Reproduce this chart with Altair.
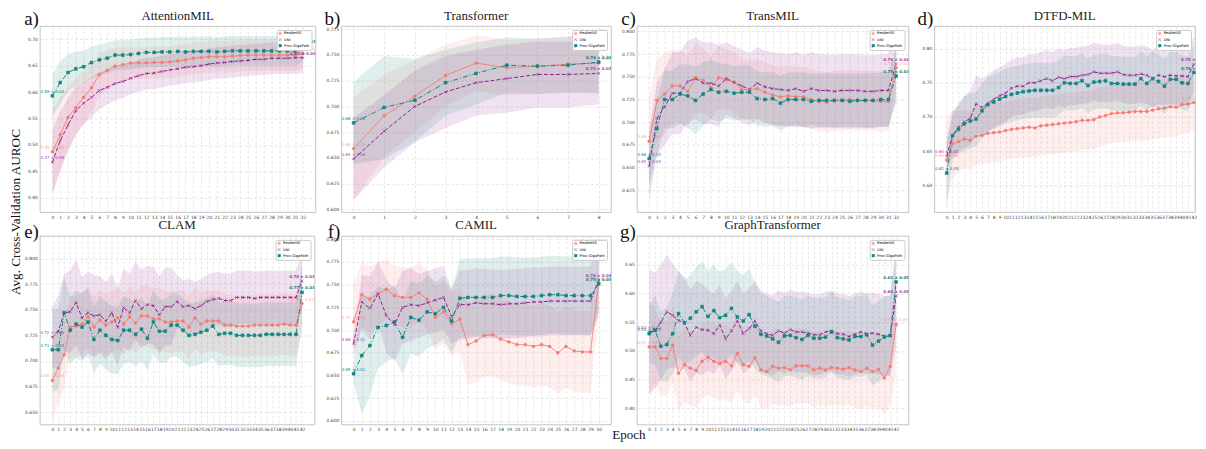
import altair as alt
import pandas as pd

MODELS = ["ResNet50", "UNI", "Prov-GigaPath"]
COLORS = ["#F47C72", "#8E1E8E", "#11857F"]
SHAPES = ["circle", "M-1,-1L1,1M-1,1L1,-1", "square"]
DASHES = [[1, 0], [4, 2], [5, 2, 1, 2]]

# ---------------- a) AttentionMIL ----------------
a_resnet = [0.487, 0.519, 0.552, 0.571, 0.590, 0.608, 0.633, 0.641, 0.649, 0.652, 0.655, 0.655, 0.655, 0.656, 0.656, 0.657, 0.659,
            0.661, 0.664, 0.665, 0.667, 0.667, 0.667, 0.668, 0.669, 0.670, 0.670, 0.670, 0.670, 0.670, 0.670, 0.670, 0.673]
a_resnet_sd = [0.08, 0.07, 0.06, 0.055, 0.05, 0.045, 0.04, 0.037, 0.035, 0.033, 0.03, 0.03, 0.03, 0.03, 0.03, 0.03, 0.03,
               0.03, 0.03, 0.03, 0.03, 0.03, 0.03, 0.03, 0.03, 0.03, 0.03, 0.03, 0.03, 0.03, 0.03, 0.03, 0.03]
a_uni = [0.467, 0.508, 0.538, 0.565, 0.579, 0.590, 0.603, 0.609, 0.616, 0.620, 0.626, 0.631, 0.635, 0.636, 0.639, 0.642, 0.644,
         0.647, 0.648, 0.650, 0.653, 0.655, 0.656, 0.658, 0.659, 0.660, 0.662, 0.662, 0.664, 0.664, 0.664, 0.665, 0.665]
a_uni_sd = [0.06, 0.055, 0.05, 0.045, 0.04, 0.038, 0.035, 0.033, 0.032, 0.031, 0.03, 0.03, 0.03, 0.03, 0.03, 0.03, 0.03,
            0.03, 0.03, 0.03, 0.03, 0.03, 0.03, 0.03, 0.03, 0.03, 0.03, 0.03, 0.03, 0.03, 0.03, 0.03, 0.03]
a_gp = [0.593, 0.618, 0.637, 0.644, 0.648, 0.656, 0.661, 0.664, 0.670, 0.670, 0.671, 0.673, 0.675, 0.675, 0.676, 0.676, 0.677,
        0.676, 0.677, 0.677, 0.677, 0.676, 0.677, 0.678, 0.678, 0.678, 0.678, 0.678, 0.678, 0.678, 0.678, 0.678, 0.687]
a_gp_sd = [0.04, 0.04, 0.035, 0.033, 0.03, 0.03, 0.029, 0.029, 0.028, 0.028, 0.028, 0.028, 0.028, 0.028, 0.028, 0.028, 0.028,
           0.028, 0.028, 0.028, 0.028, 0.028, 0.028, 0.028, 0.028, 0.028, 0.028, 0.028, 0.028, 0.028, 0.028, 0.028, 0.03]
a_first = ["0.49 ± 0.08", "0.47 ± 0.06", "0.59 ± 0.04"]
a_last = ["0.67 ± 0.03", "0.67 ± 0.03", "0.69 ± 0.03"]

# ---------------- b) Transformer ----------------
b_resnet = [0.659, 0.691, 0.710, 0.730, 0.742, 0.7375, 0.739, 0.741, 0.742]
b_resnet_sd = [0.05, 0.04, 0.035, 0.03, 0.027, 0.027, 0.027, 0.027, 0.03]
b_uni = [0.649, 0.676, 0.700, 0.714, 0.723, 0.727, 0.731, 0.731, 0.732]
b_uni_sd = [0.04, 0.035, 0.035, 0.035, 0.032, 0.033, 0.032, 0.032, 0.03]
b_gp = [0.684, 0.699, 0.706, 0.723, 0.732, 0.740, 0.739, 0.740, 0.743]
b_gp_sd = [0.04, 0.05, 0.04, 0.032, 0.03, 0.027, 0.027, 0.027, 0.03]
b_first = ["0.66 ± 0.05", "0.65 ± 0.04", "0.68 ± 0.04"]
b_last = ["0.74 ± 0.03", "0.73 ± 0.03", "0.74 ± 0.03"]

# ---------------- c) TransMIL ----------------
c_resnet = [0.679, 0.724, 0.731, 0.740, 0.740, 0.734, 0.749, 0.746, 0.738, 0.749, 0.747, 0.744, 0.736, 0.736, 0.737, 0.733, 0.730,
            0.728, 0.729, 0.728, 0.728, 0.725, 0.723, 0.722, 0.724, 0.724, 0.725, 0.724, 0.724, 0.724, 0.723, 0.723, 0.760]
c_resnet_sd = [0.05, 0.045, 0.045, 0.04, 0.04, 0.04, 0.038, 0.036, 0.035, 0.035, 0.033, 0.033, 0.033, 0.033, 0.033, 0.033, 0.033,
               0.033, 0.033, 0.033, 0.033, 0.033, 0.033, 0.033, 0.033, 0.033, 0.033, 0.033, 0.033, 0.033, 0.033, 0.033, 0.02]
c_uni = [0.652, 0.704, 0.717, 0.732, 0.732, 0.745, 0.748, 0.743, 0.743, 0.740, 0.748, 0.744, 0.740, 0.736, 0.743, 0.739, 0.737,
         0.736, 0.735, 0.737, 0.734, 0.737, 0.735, 0.735, 0.734, 0.735, 0.735, 0.735, 0.734, 0.734, 0.735, 0.735, 0.764]
c_uni_sd = [0.04, 0.04, 0.042, 0.045, 0.045, 0.045, 0.045, 0.045, 0.045, 0.045, 0.04, 0.04, 0.04, 0.04, 0.04, 0.04, 0.04,
            0.04, 0.04, 0.04, 0.04, 0.04, 0.04, 0.04, 0.04, 0.04, 0.04, 0.04, 0.04, 0.04, 0.04, 0.04, 0.04]
c_gp = [0.660, 0.693, 0.725, 0.725, 0.731, 0.729, 0.724, 0.731, 0.736, 0.733, 0.734, 0.732, 0.733, 0.733, 0.726, 0.725, 0.726,
        0.721, 0.725, 0.725, 0.725, 0.723, 0.724, 0.724, 0.724, 0.724, 0.723, 0.724, 0.724, 0.724, 0.725, 0.725, 0.751]
c_gp_sd = [0.03, 0.03, 0.032, 0.032, 0.033, 0.035, 0.037, 0.035, 0.033, 0.032, 0.03, 0.03, 0.03, 0.03, 0.03, 0.03, 0.03,
           0.03, 0.03, 0.03, 0.03, 0.03, 0.03, 0.03, 0.03, 0.03, 0.03, 0.03, 0.03, 0.03, 0.03, 0.03, 0.03]
c_first = ["0.68 ± 0.05", "0.65 ± 0.04", "0.66 ± 0.03"]
c_last = ["0.76 ± 0.02", "0.76 ± 0.04", "0.75 ± 0.03"]

# ---------------- d) DTFD-MIL ----------------
d_resnet = [0.637, 0.661, 0.664, 0.668, 0.666, 0.672, 0.673, 0.676, 0.677, 0.678, 0.680, 0.682, 0.683, 0.684, 0.685, 0.684, 0.687,
            0.688, 0.689, 0.690, 0.691, 0.692, 0.693, 0.695, 0.695, 0.696, 0.700, 0.702, 0.705, 0.706, 0.706, 0.707, 0.708, 0.708,
            0.708, 0.710, 0.712, 0.713, 0.715, 0.714, 0.718, 0.719, 0.721]
d_resnet_sd = [0.06, 0.05, 0.045, 0.043, 0.043, 0.043, 0.043, 0.043, 0.043, 0.043, 0.043, 0.043, 0.043, 0.043, 0.043, 0.043, 0.043,
               0.043, 0.043, 0.043, 0.043, 0.043, 0.043, 0.043, 0.043, 0.043, 0.043, 0.043, 0.043, 0.043, 0.043, 0.043, 0.043, 0.043,
               0.043, 0.043, 0.043, 0.043, 0.043, 0.043, 0.043, 0.043, 0.04]
d_uni = [0.643, 0.673, 0.685, 0.693, 0.698, 0.719, 0.714, 0.720, 0.726, 0.731, 0.735, 0.742, 0.745, 0.745, 0.750, 0.750, 0.753,
         0.756, 0.753, 0.758, 0.756, 0.759, 0.759, 0.761, 0.762, 0.766, 0.764, 0.764, 0.764, 0.766, 0.762, 0.761, 0.761, 0.763,
         0.761, 0.756, 0.761, 0.759, 0.761, 0.760, 0.760, 0.759, 0.777]
d_uni_sd = [0.02, 0.03, 0.035, 0.038, 0.04, 0.042, 0.042, 0.042, 0.042, 0.042, 0.042, 0.042, 0.042, 0.042, 0.042, 0.042, 0.042,
            0.042, 0.042, 0.042, 0.042, 0.042, 0.042, 0.042, 0.042, 0.042, 0.042, 0.042, 0.042, 0.042, 0.042, 0.042, 0.042, 0.042,
            0.042, 0.042, 0.042, 0.042, 0.042, 0.042, 0.042, 0.042, 0.04]
d_gp = [0.618, 0.673, 0.682, 0.690, 0.694, 0.697, 0.709, 0.718, 0.722, 0.726, 0.730, 0.733, 0.735, 0.737, 0.738, 0.739, 0.739,
        0.739, 0.739, 0.743, 0.750, 0.749, 0.749, 0.753, 0.746, 0.751, 0.752, 0.753, 0.749, 0.749, 0.748, 0.748, 0.748, 0.756,
        0.749, 0.756, 0.752, 0.745, 0.755, 0.755, 0.750, 0.749, 0.765]
d_gp_sd = [0.05, 0.035, 0.035, 0.04, 0.04, 0.04, 0.04, 0.04, 0.04, 0.04, 0.04, 0.04, 0.04, 0.04, 0.04, 0.04, 0.04,
           0.04, 0.04, 0.04, 0.04, 0.04, 0.04, 0.04, 0.04, 0.04, 0.04, 0.04, 0.04, 0.04, 0.04, 0.04, 0.04, 0.04,
           0.04, 0.04, 0.04, 0.04, 0.04, 0.04, 0.04, 0.04, 0.04]
d_first = ["0.64 ± 0.06", "0.64 ± 0.02", "0.62 ± 0.05"]
d_last = ["0.72 ± 0.04", "0.78 ± 0.04", "0.76 ± 0.04"]

# ---------------- e) CLAM ----------------
e_resnet = [0.681, 0.693, 0.706, 0.733, 0.734, 0.736, 0.743, 0.733, 0.740, 0.735, 0.738, 0.742, 0.736, 0.743, 0.737, 0.744, 0.744,
            0.741, 0.741, 0.738, 0.738, 0.739, 0.739, 0.733, 0.742, 0.736, 0.739, 0.739, 0.739, 0.735, 0.735, 0.734, 0.734, 0.734,
            0.735, 0.735, 0.735, 0.735, 0.735, 0.736, 0.735, 0.735, 0.756]
e_resnet_sd = [0.04, 0.035, 0.032, 0.03, 0.03, 0.03, 0.03, 0.03, 0.03, 0.03, 0.03, 0.03, 0.03, 0.03, 0.03, 0.03, 0.03,
               0.03, 0.03, 0.03, 0.03, 0.03, 0.03, 0.03, 0.03, 0.03, 0.03, 0.03, 0.03, 0.03, 0.03, 0.03, 0.03, 0.03,
               0.03, 0.03, 0.03, 0.03, 0.03, 0.03, 0.03, 0.03, 0.03]
e_uni = [0.723, 0.729, 0.747, 0.748, 0.757, 0.742, 0.747, 0.744, 0.745, 0.739, 0.747, 0.733, 0.752, 0.747, 0.759, 0.751, 0.755,
         0.754, 0.745, 0.753, 0.753, 0.758, 0.753, 0.754, 0.751, 0.754, 0.758, 0.760, 0.761, 0.759, 0.759, 0.762, 0.762, 0.762,
         0.761, 0.762, 0.762, 0.762, 0.762, 0.762, 0.762, 0.762, 0.778]
e_uni_sd = [0.03, 0.035, 0.038, 0.04, 0.042, 0.04, 0.04, 0.04, 0.038, 0.038, 0.038, 0.038, 0.038, 0.038, 0.038, 0.038, 0.038,
            0.038, 0.038, 0.038, 0.038, 0.026, 0.026, 0.026, 0.026, 0.026, 0.026, 0.026, 0.026, 0.026, 0.026, 0.026, 0.026, 0.026,
            0.026, 0.026, 0.026, 0.026, 0.026, 0.026, 0.026, 0.026, 0.03]
e_gp = [0.711, 0.711, 0.747, 0.730, 0.736, 0.733, 0.738, 0.721, 0.730, 0.725, 0.721, 0.720, 0.730, 0.730, 0.726, 0.731, 0.722,
        0.738, 0.729, 0.729, 0.735, 0.735, 0.730, 0.725, 0.726, 0.728, 0.730, 0.734, 0.726, 0.727, 0.727, 0.725, 0.725, 0.725,
        0.725, 0.725, 0.726, 0.726, 0.726, 0.726, 0.726, 0.726, 0.767]
e_gp_sd = [0.04, 0.04, 0.035, 0.033, 0.033, 0.033, 0.033, 0.033, 0.033, 0.033, 0.033, 0.033, 0.033, 0.031, 0.031, 0.031, 0.031,
           0.031, 0.031, 0.031, 0.031, 0.031, 0.031, 0.031, 0.031, 0.031, 0.031, 0.031, 0.031, 0.031, 0.031, 0.031, 0.031, 0.031,
           0.031, 0.031, 0.031, 0.031, 0.031, 0.031, 0.031, 0.031, 0.03]
e_first = ["0.68 ± 0.04", "0.72 ± 0.03", "0.71 ± 0.04"]
e_last = ["0.76 ± 0.03", "0.78 ± 0.03", "0.77 ± 0.03"]

# ---------------- f) CAMIL ----------------
f_resnet = [0.709, 0.739, 0.734, 0.740, 0.745, 0.738, 0.736, 0.736, 0.741, 0.734, 0.714, 0.720, 0.707, 0.712, 0.684, 0.688, 0.694,
            0.695, 0.690, 0.687, 0.684, 0.684, 0.682, 0.684, 0.682, 0.675, 0.682, 0.677, 0.676, 0.676, 0.752]
f_resnet_sd = [0.04, 0.036, 0.036, 0.035, 0.033, 0.033, 0.033, 0.033, 0.033, 0.033, 0.035, 0.035, 0.035, 0.035, 0.045, 0.045, 0.045,
               0.045, 0.045, 0.045, 0.045, 0.045, 0.045, 0.045, 0.045, 0.045, 0.045, 0.045, 0.045, 0.045, 0.03]
f_uni = [0.685, 0.731, 0.724, 0.740, 0.716, 0.706, 0.725, 0.728, 0.727, 0.730, 0.733, 0.736, 0.715, 0.728, 0.728, 0.730, 0.729,
         0.729, 0.728, 0.729, 0.729, 0.730, 0.731, 0.731, 0.732, 0.732, 0.732, 0.732, 0.732, 0.732, 0.755]
f_uni_sd = [0.01, 0.03, 0.035, 0.035, 0.04, 0.04, 0.04, 0.04, 0.035, 0.035, 0.035, 0.035, 0.03, 0.038, 0.038, 0.038, 0.038,
            0.038, 0.038, 0.038, 0.038, 0.038, 0.038, 0.038, 0.038, 0.038, 0.038, 0.038, 0.038, 0.038, 0.04]
f_gp = [0.652, 0.672, 0.683, 0.703, 0.705, 0.709, 0.692, 0.714, 0.711, 0.720, 0.718, 0.725, 0.710, 0.735, 0.736, 0.736, 0.736,
        0.736, 0.738, 0.738, 0.737, 0.737, 0.737, 0.738, 0.739, 0.739, 0.738, 0.738, 0.738, 0.738, 0.751]
f_gp_sd = [0.01, 0.065, 0.055, 0.045, 0.04, 0.04, 0.04, 0.04, 0.04, 0.04, 0.035, 0.035, 0.035, 0.043, 0.043, 0.043, 0.043,
           0.043, 0.043, 0.043, 0.043, 0.043, 0.043, 0.043, 0.043, 0.043, 0.043, 0.043, 0.043, 0.043, 0.03]
f_first = ["0.71 ± 0.04", "0.68 ± 0.01", "0.65 ± 0.01"]
f_last = ["0.75 ± 0.03", "0.76 ± 0.04", "0.75 ± 0.03"]

# ---------------- g) GraphTransformer ----------------
g_resnet = [0.507, 0.507, 0.487, 0.487, 0.510, 0.461, 0.476, 0.470, 0.466, 0.482, 0.489, 0.482, 0.478, 0.482, 0.474, 0.496, 0.476,
            0.473, 0.488, 0.467, 0.464, 0.473, 0.470, 0.471, 0.467, 0.474, 0.474, 0.474, 0.467, 0.470, 0.467, 0.471, 0.470, 0.468,
            0.471, 0.467, 0.464, 0.470, 0.464, 0.468, 0.453, 0.473, 0.546]
g_resnet_sd = [0.08, 0.065, 0.065, 0.065, 0.065, 0.065, 0.065, 0.065, 0.065, 0.065, 0.065, 0.065, 0.065, 0.065, 0.065, 0.065, 0.065,
               0.065, 0.065, 0.065, 0.065, 0.065, 0.065, 0.065, 0.065, 0.065, 0.065, 0.065, 0.065, 0.065, 0.065, 0.065, 0.065, 0.065,
               0.065, 0.065, 0.065, 0.065, 0.065, 0.065, 0.065, 0.065, 0.09]
g_uni = [0.533, 0.535, 0.550, 0.568, 0.562, 0.553, 0.549, 0.527, 0.541, 0.537, 0.536, 0.530, 0.545, 0.521, 0.535, 0.552, 0.530,
         0.539, 0.552, 0.535, 0.530, 0.527, 0.535, 0.531, 0.537, 0.533, 0.533, 0.531, 0.528, 0.528, 0.533, 0.535, 0.530, 0.529,
         0.525, 0.529, 0.533, 0.530, 0.531, 0.529, 0.526, 0.526, 0.596]
g_uni_sd = [0.11, 0.1, 0.1, 0.1, 0.09, 0.085, 0.08, 0.08, 0.08, 0.08, 0.07, 0.07, 0.07, 0.07, 0.07, 0.07, 0.07,
            0.07, 0.07, 0.07, 0.07, 0.07, 0.07, 0.07, 0.07, 0.07, 0.07, 0.07, 0.07, 0.07, 0.07, 0.07, 0.07, 0.07,
            0.07, 0.07, 0.07, 0.07, 0.07, 0.07, 0.07, 0.07, 0.09]
g_gp = [0.530, 0.536, 0.508, 0.511, 0.530, 0.565, 0.549, 0.557, 0.568, 0.577, 0.560, 0.570, 0.558, 0.562, 0.574, 0.559, 0.552,
        0.563, 0.543, 0.529, 0.526, 0.521, 0.515, 0.526, 0.527, 0.523, 0.520, 0.527, 0.522, 0.522, 0.524, 0.533, 0.523, 0.521,
        0.519, 0.525, 0.525, 0.528, 0.510, 0.517, 0.524, 0.527, 0.620]
g_gp_sd = [0.05, 0.06, 0.06, 0.065, 0.07, 0.075, 0.075, 0.075, 0.078, 0.078, 0.08, 0.08, 0.08, 0.08, 0.08, 0.08, 0.08,
           0.08, 0.075, 0.07, 0.07, 0.07, 0.07, 0.07, 0.07, 0.07, 0.07, 0.07, 0.07, 0.07, 0.07, 0.07, 0.07, 0.07,
           0.07, 0.07, 0.07, 0.07, 0.07, 0.07, 0.07, 0.07, 0.05]
g_first = ["0.51 ± 0.08", "0.53 ± 0.11", "0.53 ± 0.05"]
g_last = ["0.55 ± 0.09", "0.60 ± 0.09", "0.62 ± 0.05"]

SERIF = "Liberation Serif"
SANS = "DejaVu Sans"


def make_legend():
    return alt.Legend(title=None, orient="top-right", offset=4, labelFontSize=3.6, labelFont=SANS,
                      symbolSize=7, symbolStrokeWidth=0.6, padding=1.5, rowPadding=0.2, labelOffset=2,
                      strokeColor="#cccccc", fillColor="white", cornerRadius=1, labelLimit=80)


def panel(letter, title, means, sds, first, last, ydom, yvals, yfmt, w, h,
          letter_y=-7.5, xmax=None, extras=()):
    n = len(means[0]) - 1
    rows = []
    for model, m, s in zip(MODELS, means, sds):
        for i, (mv, sv) in enumerate(zip(m, s)):
            rows.append({"epoch": i, "model": model, "mean": mv, "lo": mv - sv, "hi": mv + sv})
    df = pd.DataFrame(rows)
    ann = []
    for model, m, fl, ll in zip(MODELS, means, first, last):
        ann.append({"epoch": 0, "mean": m[0], "model": model, "label": fl, "wt": "normal"})
        ann.append({"epoch": n, "mean": m[-1], "model": model, "label": ll,
                    "wt": "normal" if model == "ResNet50" else "bold"})
    adf = pd.DataFrame(ann)

    pad = 0.05 * n
    xscale = alt.Scale(domain=[-pad, xmax if xmax is not None else n + pad], nice=False, zero=False)
    xaxis = alt.Axis(values=list(range(n + 1)), title=None, format="d", labelOverlap=False)
    yscale = alt.Scale(domain=ydom, nice=False, zero=False)
    yaxis = alt.Axis(values=yvals, format=yfmt, title=None, labelOverlap=False)
    x = alt.X("epoch:Q", scale=xscale, axis=xaxis)
    y = alt.Y("mean:Q", scale=yscale, axis=yaxis)
    leg = make_legend()
    color = alt.Color("model:N", scale=alt.Scale(domain=MODELS, range=COLORS), legend=leg)
    shape = alt.Shape("model:N", scale=alt.Scale(domain=MODELS, range=SHAPES), legend=leg)
    stroke = alt.Stroke("model:N", scale=alt.Scale(domain=MODELS, range=COLORS), legend=leg)
    dash = alt.StrokeDash("model:N", scale=alt.Scale(domain=MODELS, range=DASHES), legend=None)
    opac = alt.Opacity("model:N", scale=alt.Scale(domain=MODELS, range=[0.65, 1, 1]), legend=None)

    base = alt.Chart(df)
    band = base.mark_area(opacity=0.13, clip=True).encode(
        x=x, y=alt.Y("lo:Q", scale=yscale, axis=yaxis), y2="hi:Q", color=color)
    line = base.mark_line(strokeWidth=1, clip=True).encode(x=x, y=y, color=color, strokeDash=dash)
    pts = base.mark_point(filled=True, size=8, strokeWidth=0.6, opacity=1).encode(
        x=x, y=y, color=color, shape=shape, stroke=stroke)
    abase = alt.Chart(adf)
    txt_n = abase.transform_filter(alt.datum.wt == "normal").mark_text(
        fontSize=4.0, font=SANS, dy=-4, clip=True).encode(x=x, y=y, text="label:N", color=color, opacity=opac)
    txt_b = abase.transform_filter(alt.datum.wt == "bold").mark_text(
        fontSize=4.0, font=SANS, dy=-4, clip=True, fontWeight="bold").encode(
        x=x, y=y, text="label:N", color=color, opacity=opac)
    ttl = alt.Chart(pd.DataFrame({"t": [title]})).mark_text(font=SERIF, fontSize=13, color="#222").encode(
        text="t:N", x=alt.value(w / 2), y=alt.value(-10.5))
    let = alt.Chart(pd.DataFrame({"t": [letter]})).mark_text(font=SERIF, fontSize=19, align="right", color="#111").encode(
        text="t:N", x=alt.value(-1), y=alt.value(letter_y))
    layers = [band, line, pts, txt_n, txt_b, ttl, let] + list(extras)
    return alt.layer(*layers).properties(width=w, height=h)


def res(c):
    return c.resolve_scale(color="independent", shape="independent", stroke="independent",
                           strokeDash="independent", opacity="independent",
                           x="independent", y="independent").resolve_legend(
        color="independent", shape="independent", stroke="independent")


ylab = alt.Chart(pd.DataFrame({"t": ["Avg. Cross-Validation AUROC"]})).mark_text(
    font=SERIF, fontSize=13.3, angle=270, color="#111").encode(text="t:N", x=alt.value(-24), y=alt.value(187))
xlab = alt.Chart(pd.DataFrame({"t": ["Epoch"]})).mark_text(
    font=SERIF, fontSize=13, color="#111").encode(text="t:N", x=alt.value(-8), y=alt.value(200))

H1, H2 = 187, 189.5
pa = panel("a)", "AttentionMIL", [a_resnet, a_uni, a_gp], [a_resnet_sd, a_uni_sd, a_gp_sd], a_first, a_last,
           [0.373, 0.725], [0.40, 0.45, 0.50, 0.55, 0.60, 0.65, 0.70], ".2f", 277, H1, extras=[ylab])
pb = panel("b)", "Transformer", [b_resnet, b_uni, b_gp], [b_resnet_sd, b_uni_sd, b_gp_sd], b_first, b_last,
           [0.5975, 0.778], [0.600, 0.625, 0.650, 0.675, 0.700, 0.725, 0.750, 0.775], ".3f", 271, H1)
pc = panel("c)", "TransMIL", [c_resnet, c_uni, c_gp], [c_resnet_sd, c_uni_sd, c_gp_sd], c_first, c_last,
           [0.601, 0.806], [0.625, 0.650, 0.675, 0.700, 0.725, 0.750, 0.775, 0.800], ".3f", 273, H1)
pd_ = panel("d)", "DTFD-MIL", [d_resnet, d_uni, d_gp], [d_resnet_sd, d_uni_sd, d_gp_sd], d_first, d_last,
            [0.561, 0.833], [0.60, 0.65, 0.70, 0.75, 0.80], ".2f", 262, H1, xmax=42.2)
pe = panel("e)", "CLAM", [e_resnet, e_uni, e_gp], [e_resnet_sd, e_uni_sd, e_gp_sd], e_first, e_last,
           [0.638, 0.822], [0.650, 0.675, 0.700, 0.725, 0.750, 0.775, 0.800], ".3f", 276, H2, letter_y=-4)
pf = panel("f)", "CAMIL", [f_resnet, f_uni, f_gp], [f_resnet_sd, f_uni_sd, f_gp_sd], f_first, f_last,
           [0.596, 0.8037], [0.600, 0.625, 0.650, 0.675, 0.700, 0.725, 0.750, 0.775, 0.800], ".3f", 271, H2, letter_y=-4)
pg = panel("g)", "GraphTransformer", [g_resnet, g_uni, g_gp], [g_resnet_sd, g_uni_sd, g_gp_sd], g_first, g_last,
           [0.372, 0.70], [0.40, 0.45, 0.50, 0.55, 0.60, 0.65], ".2f", 273, H2, letter_y=-4, extras=[xlab])

chart = res(alt.concat(pa, pb, pc, pd_, pe, pf, pg, columns=4, spacing={"row": 24, "column": 26},
                       bounds="flush")).properties(padding=0, background="white")

chart = chart.configure_view(stroke="#b5b5b5", strokeWidth=0.8).configure_axis(
    labelFont=SANS, labelFontSize=4.5, labelColor="#444444", ticks=False, domain=False,
    gridColor="#d6d6d6", gridDash=[3, 2], gridWidth=0.6, labelPadding=2.5)

chart.save("out.html", embed_options={"renderer": "svg", "actions": False})
